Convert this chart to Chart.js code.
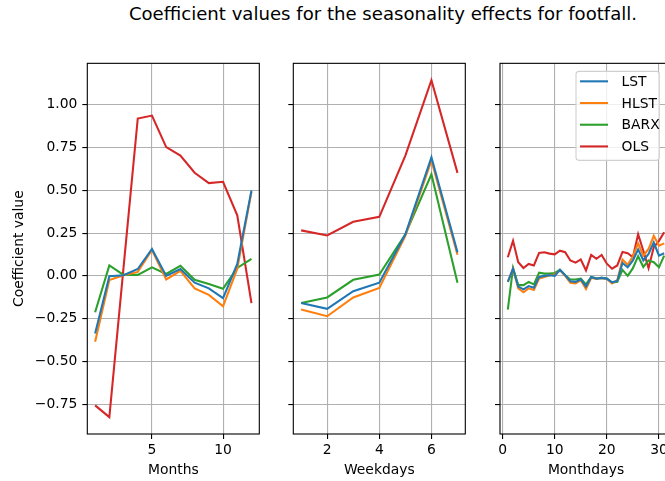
<!DOCTYPE html>
<html><head><meta charset="utf-8">
<script src="https://cdn.jsdelivr.net/npm/chart.js@4/dist/chart.umd.min.js"></script>
<style>
html,body{margin:0;padding:0;background:#fff;overflow:hidden;width:665px;height:481px;}
#wrap{position:relative;width:665px;height:481px;overflow:hidden;background:#fff;}
#title{position:absolute;left:0;width:766px;top:3px;text-align:center;font-family:'DejaVu Sans';font-size:18.1px;line-height:22px;color:#000;white-space:nowrap;}
canvas{position:absolute;top:50px;}
</style></head><body><div id="wrap">
<div id="title">Coefficient values for the seasonality effects for footfall.</div>
<canvas id="c1" width="268" height="431" style="left:0px"></canvas>
<canvas id="c2" width="191" height="431" style="left:283px"></canvas>
<canvas id="c3" width="191" height="431" style="left:490px"></canvas>
</div>
<script>
// ---- data ----
const seriesNames = ['LST', 'HLST', 'BARX', 'OLS'];
const seriesColors = ['#1f77b4', '#ff7f0e', '#2ca02c', '#d62728'];
const yTickValues = [-0.75, -0.5, -0.25, 0, 0.25, 0.5, 0.75, 1.0];

const months = [1,2,3,4,5,6,7,8,9,10,11,12];
const monthLST  = [-0.337, -0.002, 0.004, 0.040, 0.157, 0.000, 0.040, -0.040, -0.073, -0.130, 0.070, 0.500];
const monthHLST = [-0.385, -0.025, 0.004, 0.023, 0.151, -0.021, 0.029, -0.073, -0.111, -0.178, 0.042, 0.492];
const monthBARX = [-0.213, 0.061, 0.006, 0.006, 0.050, 0.011, 0.059, -0.023, -0.048, -0.075, 0.046, 0.100];
const monthOLS  = [-0.757, -0.826, 0.050, 0.920, 0.937, 0.753, 0.703, 0.603, 0.542, 0.550, 0.354, -0.159];
const monthTicks = [5, 10];

const weekdays = [1,2,3,4,5,6,7];
const wdLST  = [-0.159, -0.193, -0.090, -0.040, 0.243, 0.693, 0.138];
const wdHLST = [-0.197, -0.236, -0.126, -0.071, 0.234, 0.674, 0.123];
const wdBARX = [-0.159, -0.126, -0.023, 0.008, 0.243, 0.594, -0.040];
const wdOLS  = [0.266, 0.236, 0.316, 0.345, 0.703, 1.144, 0.602];
const weekdayTicks = [2, 4, 6];

const monthdays = [1,2,3,4,5,6,7,8,9,10,11,12,13,14,15,16,17,18,19,20,21,22,23,24,25,26,27,28,29,30,31];
const mdLST  = [-0.035, 0.042, -0.063, -0.079, -0.060, -0.069, -0.006, 0.000, 0.004, 0.000, 0.036, 0.004, -0.031, -0.035, -0.020, -0.063, -0.006, -0.016, -0.012, -0.016, -0.038, -0.030, 0.075, 0.050, 0.090, 0.155, 0.090, 0.128, 0.195, 0.118, 0.132];
const mdHLST = [-0.035, 0.042, -0.073, -0.096, -0.073, -0.083, -0.016, -0.006, 0.004, 0.008, 0.032, 0.000, -0.040, -0.044, -0.025, -0.077, -0.012, -0.016, -0.012, -0.018, -0.044, -0.025, 0.095, 0.065, 0.115, 0.190, 0.118, 0.157, 0.234, 0.176, 0.190];
const mdBARX = [-0.198, 0.046, -0.054, -0.054, -0.035, -0.050, 0.019, 0.013, 0.013, 0.017, 0.036, 0.004, -0.021, -0.021, -0.016, -0.050, -0.006, -0.016, -0.012, -0.016, -0.040, -0.035, 0.035, 0.000, 0.045, 0.115, 0.052, 0.090, 0.080, 0.050, 0.118];
const mdOLS  = [0.109, 0.205, 0.080, 0.046, 0.070, 0.061, 0.134, 0.138, 0.130, 0.126, 0.147, 0.138, 0.090, 0.077, 0.096, 0.032, 0.122, 0.100, 0.122, 0.071, 0.042, 0.061, 0.140, 0.132, 0.109, 0.243, 0.147, 0.045, 0.167, 0.205, 0.255];
const monthdayTicks = [0, 10, 20, 30];

// ---- styling ----
const FONT = 'DejaVu Sans';
const FS = 13.89;
Chart.defaults.font.family = FONT;
Chart.defaults.font.size = FS;
Chart.defaults.color = '#000';
Chart.defaults.animation = false;

const fmt = v => (v < 0 ? '\u2212' : '') + Math.abs(v).toFixed(2);

const boxPlugin = {
  id: 'box',
  afterDatasetsDraw(chart) {
    const a = chart.chartArea, ctx = chart.ctx;
    ctx.save();
    ctx.strokeStyle = '#000';
    ctx.lineWidth = 1.1;
    ctx.strokeRect(a.left, a.top, a.right - a.left, a.bottom - a.top);
    ctx.restore();
  }
};

const legendPlugin = {
  id: 'mplLegend',
  afterDraw(chart, args, opts) {
    if (!opts || !opts.show) return;
    const a = chart.chartArea, ctx = chart.ctx;
    const x0 = a.left + 76, y0 = a.top + 8, w = 83.3, h = 89, r = 3;
    ctx.save();
    ctx.beginPath();
    ctx.moveTo(x0 + r, y0);
    ctx.arcTo(x0 + w, y0, x0 + w, y0 + h, r);
    ctx.arcTo(x0 + w, y0 + h, x0, y0 + h, r);
    ctx.arcTo(x0, y0 + h, x0, y0, r);
    ctx.arcTo(x0, y0, x0 + w, y0, r);
    ctx.closePath();
    ctx.fillStyle = 'rgba(255,255,255,0.8)';
    ctx.fill();
    ctx.strokeStyle = '#d0d0d0';
    ctx.lineWidth = 1.1;
    ctx.stroke();
    ctx.font = FS + 'px "' + FONT + '"';
    ctx.textBaseline = 'middle';
    ctx.textAlign = 'left';
    chart.data.datasets.forEach((ds, i) => {
      const cy = y0 + 10 + i * 21.7;
      ctx.strokeStyle = ds.borderColor;
      ctx.lineWidth = 2.08;
      ctx.beginPath();
      ctx.moveTo(x0 + 4, cy);
      ctx.lineTo(x0 + 32, cy);
      ctx.stroke();
      ctx.fillStyle = '#000';
      ctx.fillText(ds.label, x0 + 45.5, cy + 1);
    });
    ctx.restore();
  }
};

function makeChart(id, xs, seriesVals, xmin, xmax, xticks, xTitle, cfg) {
  const datasets = seriesVals.map((vals, i) => ({
    label: seriesNames[i],
    data: xs.map((x, j) => ({ x: x, y: vals[j] })),
    borderColor: seriesColors[i],
    backgroundColor: seriesColors[i],
    borderWidth: 2.08,
    pointRadius: 0,
    tension: 0,
    fill: false
  }));
  return new Chart(document.getElementById(id), {
    type: 'line',
    data: { datasets },
    plugins: [boxPlugin, legendPlugin],
    options: {
      responsive: false,
      animation: false,
      layout: { autoPadding: false, padding: { top: 6, right: cfg.padRight, left: 0, bottom: 0 } },
      plugins: { legend: { display: false }, tooltip: { enabled: false }, title: { display: false },
                 mplLegend: { show: !!cfg.legend } },
      scales: {
        x: {
          type: 'linear', min: xmin, max: xmax,
          afterBuildTicks: s => { s.ticks = xticks.map(v => ({ value: v })); },
          afterFit: s => { s.height = 47; },
          ticks: { padding: 3, color: '#000', callback: v => String(v), maxRotation: 0, autoSkip: false },
          grid: { color: '#b0b0b0', lineWidth: 1.1, tickLength: 5, tickColor: '#000', tickWidth: 1.1, drawTicks: true },
          border: { display: false },
          title: { display: true, text: xTitle, color: '#000', font: { size: FS }, padding: { top: 0, bottom: 2.5 } }
        },
        y: {
          type: 'linear', min: -0.9245, max: 1.2425,
          afterBuildTicks: s => { s.ticks = yTickValues.map(v => ({ value: v })); },
          afterFit: s => { s.width = cfg.yWidth; },
          ticks: { padding: 5, color: '#000', callback: v => cfg.yLabels ? fmt(v) : '' },
          grid: { color: '#b0b0b0', lineWidth: 1.1, tickLength: 5, tickColor: '#000', tickWidth: 1.1, drawTicks: true },
          border: { display: false },
          title: { display: !!cfg.yTitle, text: cfg.yTitle || '', color: '#000', font: { size: FS }, padding: { top: 10.6, bottom: 0 } }
        }
      }
    }
  });
}

makeChart('c1', months, [monthLST, monthHLST, monthBARX, monthOLS], 0.45, 12.55, monthTicks, 'Months',
  { yWidth: 87.3, padRight: 8.7, yLabels: true, yTitle: 'Coefficient value' });
makeChart('c2', weekdays, [wdLST, wdHLST, wdBARX, wdOLS], 0.7, 7.3, weekdayTicks, 'Weekdays',
  { yWidth: 10.3, padRight: 8.7, yLabels: false });
makeChart('c3', monthdays, [mdLST, mdHLST, mdBARX, mdOLS], -0.5, 32.5, monthdayTicks, 'Monthdays',
  { yWidth: 10, padRight: 9, yLabels: false, legend: true });
</script>
</body></html>
